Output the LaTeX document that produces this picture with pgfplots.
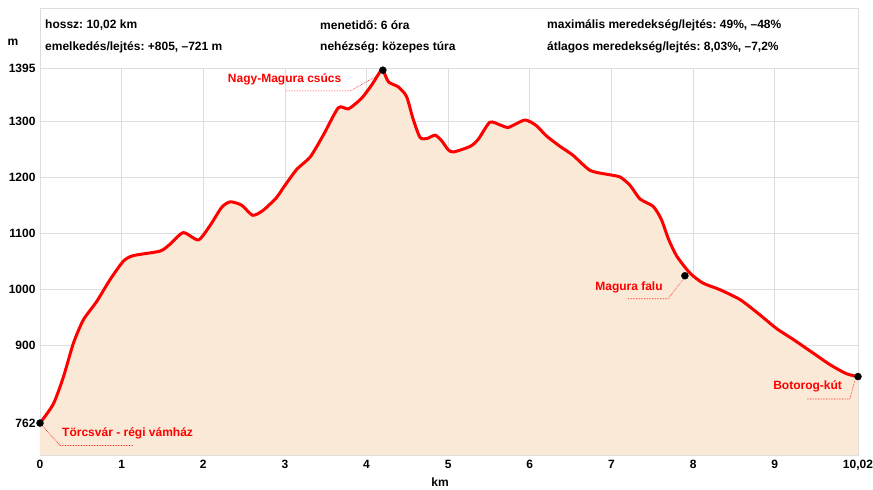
\documentclass[border=0pt]{standalone}
\usepackage{pgfplots}
\pgfplotsset{compat=1.18}
\usepackage{fontspec}
\setmainfont{Liberation Sans}
\frenchspacing
\definecolor{fillc}{RGB}{249,233,214}
\definecolor{gridc}{RGB}{221,221,221}
\definecolor{redc}{RGB}{255,0,0}
\begin{document}
\frenchspacing
\begin{tikzpicture}[x=1pt,y=1pt]
\useasboundingbox (-40,-35) rectangle (833,455);
\begin{axis}[
  at={(0,0)}, anchor=south west,
  scale only axis, width=818pt, height=386.5pt,
  xmin=0, xmax=10.02, ymin=705, ymax=1395,
  axis line style={gridc},
  xtick={0,1,2,3,4,5,6,7,8,9,10.02},
  xticklabels={0,1,2,3,4,5,6,7,8,9,{10,02}},
  ytick={762,900,1000,1100,1200,1300,1395},
  yticklabels={762,900,1000,1100,1200,1300,1395},
  major tick length=0pt,
  grid=major, major grid style={gridc, line width=0.8pt},
  ticklabel style={font=\bfseries\fontsize{12}{14}\selectfont, text=black},
  xticklabel style={yshift=-2pt},
  yticklabel style={xshift=-1pt},
  /pgf/number format/assume math mode=true,
  clip=false,
  axis on top=false,
]
\addplot[draw=none, fill=fillc, smooth, tension=0.4] table {
x y
0 762
0.163 796
0.286 844
0.408 904
0.53 946
0.694 979
0.858 1018
1.021 1051
1.144 1061
1.47 1069
1.59 1081
1.755 1102
1.94 1089
2.08 1114
2.225 1147
2.33 1157
2.47 1151
2.605 1133
2.735 1142
2.9 1165
2.97 1180
3.145 1215
3.31 1237
3.47 1276
3.655 1325
3.78 1323
3.94 1342
4.065 1366
4.165 1389
4.2 1392
4.27 1371
4.39 1362
4.49 1345
4.57 1305
4.655 1272
4.74 1270
4.84 1276
4.92 1266
5.0 1250
5.065 1246
5.27 1256
5.37 1269
5.51 1299
5.64 1294
5.74 1290
5.94 1303
6.08 1293
6.2 1275
6.37 1256
6.53 1240
6.74 1213
6.99 1205
7.11 1201
7.23 1186
7.35 1162
7.51 1149
7.61 1126
7.70 1090
7.80 1060
7.96 1030
8.12 1012
8.33 1000
8.58 982
8.82 955
9.02 931
9.23 911
9.47 887
9.68 866
9.88 850
10.02 845
} \closedcycle;
\addplot[redc, line width=3pt, smooth, tension=0.4] table {
x y
0 762
0.163 796
0.286 844
0.408 904
0.53 946
0.694 979
0.858 1018
1.021 1051
1.144 1061
1.47 1069
1.59 1081
1.755 1102
1.94 1089
2.08 1114
2.225 1147
2.33 1157
2.47 1151
2.605 1133
2.735 1142
2.9 1165
2.97 1180
3.145 1215
3.31 1237
3.47 1276
3.655 1325
3.78 1323
3.94 1342
4.065 1366
4.165 1389
4.2 1392
4.27 1371
4.39 1362
4.49 1345
4.57 1305
4.655 1272
4.74 1270
4.84 1276
4.92 1266
5.0 1250
5.065 1246
5.27 1256
5.37 1269
5.51 1299
5.64 1294
5.74 1290
5.94 1303
6.08 1293
6.2 1275
6.37 1256
6.53 1240
6.74 1213
6.99 1205
7.11 1201
7.23 1186
7.35 1162
7.51 1149
7.61 1126
7.70 1090
7.80 1060
7.96 1030
8.12 1012
8.33 1000
8.58 982
8.82 955
9.02 931
9.23 911
9.47 887
9.68 866
9.88 850
10.02 845
};
% leader lines
\draw[redc, densely dotted, line width=0.6pt] (axis cs:0,762) -- (axis cs:0.245,722) -- (axis cs:1.14,722);
\draw[redc, densely dotted, line width=0.6pt] (axis cs:4.165,1385) -- (axis cs:3.80,1355) -- (axis cs:3.01,1355);
\draw[redc, densely dotted, line width=0.6pt] (axis cs:7.88,1019) -- (axis cs:7.69,984) -- (axis cs:7.20,984);
\draw[redc, densely dotted, line width=0.6pt] (axis cs:9.98,837) -- (axis cs:9.92,805) -- (axis cs:9.39,805);
% markers
\addplot[only marks, mark=*, mark size=3.5pt, black] coordinates {(0,762) (4.2,1392) (7.9,1025) (10.02,845)};
% annotation labels
\node[anchor=west, inner sep=0pt, text=redc, font=\bfseries\fontsize{12}{14}\selectfont] at (axis cs:0.27,743) {Törcsvár - régi vámház};
\node[anchor=west, inner sep=0pt, text=redc, font=\bfseries\fontsize{12}{14}\selectfont] at (axis cs:2.30,1376) {Nagy-Magura csúcs};
\node[anchor=west, inner sep=0pt, text=redc, font=\bfseries\fontsize{12}{14}\selectfont] at (axis cs:6.80,1005) {Magura falu};
\node[anchor=west, inner sep=0pt, text=redc, font=\bfseries\fontsize{12}{14}\selectfont] at (axis cs:8.98,827) {Botorog-kút};
\end{axis}
% header box
\draw[gridc, line width=0.8pt] (0,386.5) -- (0,447) -- (818,447) -- (818,386.5);
\begin{scope}[every node/.style={anchor=west, inner sep=0pt, font=\bfseries\fontsize{12}{14}\selectfont}]
\node at (5,430) {hossz: 10,02 km};
\node at (5,408) {emelkedés/lejtés: +805, –721 m};
\node at (280,430) {menetidő: 6 óra};
\node at (280,408) {nehézség: közepes túra};
\node at (507,430) {maximális meredekség/lejtés: 49\%, –48\%};
\node at (507,408) {átlagos meredekség/lejtés: 8,03\%, –7,2\%};
\end{scope}
\node[font=\bfseries\fontsize{12}{14}\selectfont, inner sep=0pt] at (-27,413) {m};
\node[font=\bfseries\fontsize{12}{14}\selectfont, inner sep=0pt] at (400,-27) {km};
\end{tikzpicture}
\end{document}
